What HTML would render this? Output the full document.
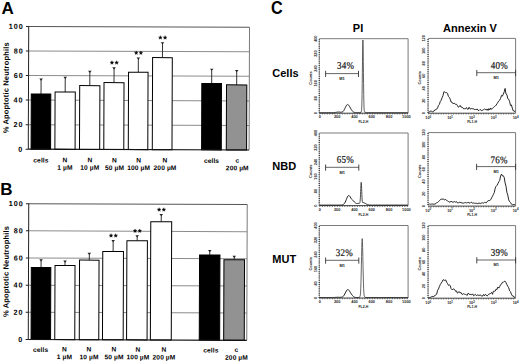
<!DOCTYPE html>
<html><head><meta charset="utf-8"><style>
html,body{margin:0;padding:0;background:#fff;width:520px;height:362px;overflow:hidden}
svg{display:block}
</style></head><body>
<svg width="520" height="362" viewBox="0 0 520 362">
<rect width="520" height="362" fill="#fff"/>
<text x="1.5" y="14.0" font-size="17" font-weight="bold" font-family='"Liberation Sans", sans-serif'>A</text>
<g transform="rotate(0.2 139 88.22)">
<line x1="28.5" y1="125.05" x2="249.3" y2="125.05" stroke="#8c8c8c" stroke-width="1"/>
<line x1="28.5" y1="100.50" x2="249.3" y2="100.50" stroke="#8c8c8c" stroke-width="1"/>
<line x1="28.5" y1="75.95" x2="249.3" y2="75.95" stroke="#8c8c8c" stroke-width="1"/>
<line x1="28.5" y1="51.40" x2="249.3" y2="51.40" stroke="#8c8c8c" stroke-width="1"/>
<line x1="28.5" y1="26.85" x2="249.3" y2="26.85" stroke="#555" stroke-width="1.1"/>
<line x1="249.3" y1="26.85" x2="249.3" y2="149.60" stroke="#7a7a7a" stroke-width="1"/>
<line x1="25.8" y1="149.60" x2="28.5" y2="149.60" stroke="#222" stroke-width="1"/>
<text x="23.6" y="152.05" font-size="7.2" font-weight="bold" letter-spacing="1.0" text-anchor="end" font-family='"Liberation Sans", sans-serif'>0</text>
<line x1="25.8" y1="125.05" x2="28.5" y2="125.05" stroke="#222" stroke-width="1"/>
<text x="23.6" y="127.50" font-size="7.2" font-weight="bold" letter-spacing="1.0" text-anchor="end" font-family='"Liberation Sans", sans-serif'>20</text>
<line x1="25.8" y1="100.50" x2="28.5" y2="100.50" stroke="#222" stroke-width="1"/>
<text x="23.6" y="102.95" font-size="7.2" font-weight="bold" letter-spacing="1.0" text-anchor="end" font-family='"Liberation Sans", sans-serif'>40</text>
<line x1="25.8" y1="75.95" x2="28.5" y2="75.95" stroke="#222" stroke-width="1"/>
<text x="23.6" y="78.40" font-size="7.2" font-weight="bold" letter-spacing="1.0" text-anchor="end" font-family='"Liberation Sans", sans-serif'>60</text>
<line x1="25.8" y1="51.40" x2="28.5" y2="51.40" stroke="#222" stroke-width="1"/>
<text x="23.6" y="53.85" font-size="7.2" font-weight="bold" letter-spacing="1.0" text-anchor="end" font-family='"Liberation Sans", sans-serif'>80</text>
<line x1="25.8" y1="26.85" x2="28.5" y2="26.85" stroke="#222" stroke-width="1"/>
<text x="23.6" y="29.30" font-size="7.2" font-weight="bold" letter-spacing="1.0" text-anchor="end" font-family='"Liberation Sans", sans-serif'>100</text>
<line x1="41.05" y1="79.63" x2="41.05" y2="94.36" stroke="#333" stroke-width="1"/>
<polygon points="39.25,78.93 42.85,78.93 41.05,81.13" fill="#222"/>
<rect x="31.30" y="94.36" width="19.50" height="55.24" fill="#000" stroke="#000" stroke-width="1"/>
<line x1="65.20" y1="77.67" x2="65.20" y2="92.28" stroke="#333" stroke-width="1"/>
<polygon points="63.40,76.97 67.00,76.97 65.20,79.17" fill="#222"/>
<rect x="55.10" y="92.28" width="20.20" height="57.32" fill="#fff" stroke="#000" stroke-width="1"/>
<line x1="89.80" y1="71.65" x2="89.80" y2="85.77" stroke="#333" stroke-width="1"/>
<polygon points="88.00,70.95 91.60,70.95 89.80,73.15" fill="#222"/>
<rect x="79.70" y="85.77" width="20.20" height="63.83" fill="#fff" stroke="#000" stroke-width="1"/>
<line x1="114.00" y1="68.09" x2="114.00" y2="82.70" stroke="#333" stroke-width="1"/>
<polygon points="112.20,67.39 115.80,67.39 114.00,69.59" fill="#222"/>
<rect x="104.00" y="82.70" width="20.00" height="66.90" fill="#fff" stroke="#000" stroke-width="1"/>
<line x1="138.25" y1="58.15" x2="138.25" y2="72.27" stroke="#333" stroke-width="1"/>
<polygon points="136.45,57.45 140.05,57.45 138.25,59.65" fill="#222"/>
<rect x="128.50" y="72.27" width="19.50" height="77.33" fill="#fff" stroke="#000" stroke-width="1"/>
<line x1="162.35" y1="42.81" x2="162.35" y2="57.54" stroke="#333" stroke-width="1"/>
<polygon points="160.55,42.11 164.15,42.11 162.35,44.31" fill="#222"/>
<rect x="152.50" y="57.54" width="19.70" height="92.06" fill="#fff" stroke="#000" stroke-width="1"/>
<line x1="211.65" y1="69.08" x2="211.65" y2="83.31" stroke="#333" stroke-width="1"/>
<polygon points="209.85,68.38 213.45,68.38 211.65,70.58" fill="#222"/>
<rect x="201.80" y="83.31" width="19.70" height="66.28" fill="#000" stroke="#000" stroke-width="1"/>
<line x1="236.65" y1="70.43" x2="236.65" y2="84.54" stroke="#333" stroke-width="1"/>
<polygon points="234.85,69.73 238.45,69.73 236.65,71.93" fill="#222"/>
<rect x="226.50" y="84.54" width="20.30" height="65.06" fill="#929292" stroke="#000" stroke-width="1"/>
<line x1="28.5" y1="26.35" x2="28.5" y2="149.60" stroke="#222" stroke-width="1"/>
<line x1="28.5" y1="149.60" x2="249.3" y2="149.60" stroke="#111" stroke-width="1.2"/>
<polygon points="111.85,60.84 112.35,62.11 113.70,62.19 112.66,63.06 113.00,64.37 111.85,63.64 110.70,64.37 111.04,63.06 110.00,62.19 111.35,62.11" fill="#000" stroke="#000" stroke-width="0.35" stroke-linejoin="round"/>
<polygon points="116.55,60.84 117.05,62.11 118.40,62.19 117.36,63.06 117.70,64.37 116.55,63.64 115.40,64.37 115.74,63.06 114.70,62.19 116.05,62.11" fill="#000" stroke="#000" stroke-width="0.35" stroke-linejoin="round"/>
<polygon points="136.10,50.90 136.60,52.16 137.95,52.25 136.91,53.11 137.25,54.43 136.10,53.70 134.95,54.43 135.29,53.11 134.25,52.25 135.60,52.16" fill="#000" stroke="#000" stroke-width="0.35" stroke-linejoin="round"/>
<polygon points="140.80,50.90 141.30,52.16 142.65,52.25 141.61,53.11 141.95,54.43 140.80,53.70 139.65,54.43 139.99,53.11 138.95,52.25 140.30,52.16" fill="#000" stroke="#000" stroke-width="0.35" stroke-linejoin="round"/>
<polygon points="160.20,35.56 160.70,36.82 162.05,36.90 161.01,37.77 161.35,39.09 160.20,38.36 159.05,39.09 159.39,37.77 158.35,36.90 159.70,36.82" fill="#000" stroke="#000" stroke-width="0.35" stroke-linejoin="round"/>
<polygon points="164.90,35.56 165.40,36.82 166.75,36.90 165.71,37.77 166.05,39.09 164.90,38.36 163.75,39.09 164.09,37.77 163.05,36.90 164.40,36.82" fill="#000" stroke="#000" stroke-width="0.35" stroke-linejoin="round"/>
<text transform="translate(8.6,88.22) rotate(-90)" font-size="7.5" font-weight="bold" letter-spacing="0.17" text-anchor="middle" font-family='"Liberation Sans", sans-serif'>% Apoptotic Neutrophils</text>
<text x="41.20" y="162.80" font-size="6.6" letter-spacing="0.12" font-weight="bold" text-anchor="middle" font-family='"Liberation Sans", sans-serif'>cells</text>
<text x="65.30" y="162.50" font-size="6.6" letter-spacing="0.12" font-weight="bold" text-anchor="middle" font-family='"Liberation Sans", sans-serif'>N</text>
<text x="65.30" y="170.00" font-size="6.6" letter-spacing="0.12" font-weight="bold" text-anchor="middle" font-family='"Liberation Sans", sans-serif'>1 µM</text>
<text x="90.10" y="162.50" font-size="6.6" letter-spacing="0.12" font-weight="bold" text-anchor="middle" font-family='"Liberation Sans", sans-serif'>N</text>
<text x="90.10" y="170.00" font-size="6.6" letter-spacing="0.12" font-weight="bold" text-anchor="middle" font-family='"Liberation Sans", sans-serif'>10 µM</text>
<text x="114.80" y="162.50" font-size="6.6" letter-spacing="0.12" font-weight="bold" text-anchor="middle" font-family='"Liberation Sans", sans-serif'>N</text>
<text x="114.80" y="170.00" font-size="6.6" letter-spacing="0.12" font-weight="bold" text-anchor="middle" font-family='"Liberation Sans", sans-serif'>50 µM</text>
<text x="139.00" y="162.50" font-size="6.6" letter-spacing="0.12" font-weight="bold" text-anchor="middle" font-family='"Liberation Sans", sans-serif'>N</text>
<text x="139.00" y="170.00" font-size="6.6" letter-spacing="0.12" font-weight="bold" text-anchor="middle" font-family='"Liberation Sans", sans-serif'>100 µM</text>
<text x="165.30" y="162.50" font-size="6.6" letter-spacing="0.12" font-weight="bold" text-anchor="middle" font-family='"Liberation Sans", sans-serif'>N</text>
<text x="165.30" y="170.00" font-size="6.6" letter-spacing="0.12" font-weight="bold" text-anchor="middle" font-family='"Liberation Sans", sans-serif'>200 µM</text>
<text x="211.80" y="162.80" font-size="6.6" letter-spacing="0.12" font-weight="bold" text-anchor="middle" font-family='"Liberation Sans", sans-serif'>cells</text>
<text x="237.60" y="162.50" font-size="6.6" letter-spacing="0.12" font-weight="bold" text-anchor="middle" font-family='"Liberation Sans", sans-serif'>c</text>
<text x="237.60" y="170.00" font-size="6.6" letter-spacing="0.12" font-weight="bold" text-anchor="middle" font-family='"Liberation Sans", sans-serif'>200 µM</text>
</g>
<text x="0.3" y="195.0" font-size="17" font-weight="bold" font-family='"Liberation Sans", sans-serif'>B</text>
<g transform="rotate(0.2 139 272.00)">
<line x1="28.5" y1="312.74" x2="247" y2="312.74" stroke="#8c8c8c" stroke-width="1"/>
<line x1="28.5" y1="285.58" x2="247" y2="285.58" stroke="#8c8c8c" stroke-width="1"/>
<line x1="28.5" y1="258.42" x2="247" y2="258.42" stroke="#8c8c8c" stroke-width="1"/>
<line x1="28.5" y1="231.26" x2="247" y2="231.26" stroke="#8c8c8c" stroke-width="1"/>
<line x1="28.5" y1="204.10" x2="247" y2="204.10" stroke="#555" stroke-width="1.1"/>
<line x1="247" y1="204.10" x2="247" y2="339.90" stroke="#7a7a7a" stroke-width="1"/>
<line x1="25.8" y1="339.90" x2="28.5" y2="339.90" stroke="#222" stroke-width="1"/>
<text x="23.6" y="342.35" font-size="7.2" font-weight="bold" letter-spacing="1.0" text-anchor="end" font-family='"Liberation Sans", sans-serif'>0</text>
<line x1="25.8" y1="312.74" x2="28.5" y2="312.74" stroke="#222" stroke-width="1"/>
<text x="23.6" y="315.19" font-size="7.2" font-weight="bold" letter-spacing="1.0" text-anchor="end" font-family='"Liberation Sans", sans-serif'>20</text>
<line x1="25.8" y1="285.58" x2="28.5" y2="285.58" stroke="#222" stroke-width="1"/>
<text x="23.6" y="288.03" font-size="7.2" font-weight="bold" letter-spacing="1.0" text-anchor="end" font-family='"Liberation Sans", sans-serif'>40</text>
<line x1="25.8" y1="258.42" x2="28.5" y2="258.42" stroke="#222" stroke-width="1"/>
<text x="23.6" y="260.87" font-size="7.2" font-weight="bold" letter-spacing="1.0" text-anchor="end" font-family='"Liberation Sans", sans-serif'>60</text>
<line x1="25.8" y1="231.26" x2="28.5" y2="231.26" stroke="#222" stroke-width="1"/>
<text x="23.6" y="233.71" font-size="7.2" font-weight="bold" letter-spacing="1.0" text-anchor="end" font-family='"Liberation Sans", sans-serif'>80</text>
<line x1="25.8" y1="204.10" x2="28.5" y2="204.10" stroke="#222" stroke-width="1"/>
<text x="23.6" y="206.55" font-size="7.2" font-weight="bold" letter-spacing="1.0" text-anchor="end" font-family='"Liberation Sans", sans-serif'>100</text>
<line x1="41.05" y1="260.32" x2="41.05" y2="267.93" stroke="#333" stroke-width="1"/>
<polygon points="39.25,259.62 42.85,259.62 41.05,261.82" fill="#222"/>
<rect x="31.30" y="267.93" width="19.50" height="71.97" fill="#000" stroke="#000" stroke-width="1"/>
<line x1="65.00" y1="261.41" x2="65.00" y2="265.75" stroke="#333" stroke-width="1"/>
<polygon points="63.20,260.71 66.80,260.71 65.00,262.91" fill="#222"/>
<rect x="55.00" y="265.75" width="20.00" height="74.15" fill="#fff" stroke="#000" stroke-width="1"/>
<line x1="89.25" y1="253.67" x2="89.25" y2="260.32" stroke="#333" stroke-width="1"/>
<polygon points="87.45,252.97 91.05,252.97 89.25,255.17" fill="#222"/>
<rect x="79.50" y="260.32" width="19.50" height="79.58" fill="#fff" stroke="#000" stroke-width="1"/>
<line x1="113.05" y1="240.77" x2="113.05" y2="251.63" stroke="#333" stroke-width="1"/>
<polygon points="111.25,240.07 114.85,240.07 113.05,242.27" fill="#222"/>
<rect x="102.70" y="251.63" width="20.70" height="88.27" fill="#fff" stroke="#000" stroke-width="1"/>
<line x1="137.05" y1="236.01" x2="137.05" y2="240.77" stroke="#333" stroke-width="1"/>
<polygon points="135.25,235.31 138.85,235.31 137.05,237.51" fill="#222"/>
<rect x="126.80" y="240.77" width="20.50" height="99.13" fill="#fff" stroke="#000" stroke-width="1"/>
<line x1="161.05" y1="214.69" x2="161.05" y2="221.75" stroke="#333" stroke-width="1"/>
<polygon points="159.25,213.99 162.85,213.99 161.05,216.19" fill="#222"/>
<rect x="150.60" y="221.75" width="20.90" height="118.15" fill="#fff" stroke="#000" stroke-width="1"/>
<line x1="209.70" y1="250.41" x2="209.70" y2="254.75" stroke="#333" stroke-width="1"/>
<polygon points="207.90,249.71 211.50,249.71 209.70,251.91" fill="#222"/>
<rect x="199.50" y="254.75" width="20.40" height="85.15" fill="#000" stroke="#000" stroke-width="1"/>
<line x1="234.20" y1="256.11" x2="234.20" y2="259.37" stroke="#333" stroke-width="1"/>
<polygon points="232.40,255.41 236.00,255.41 234.20,257.61" fill="#222"/>
<rect x="223.90" y="259.37" width="20.60" height="80.53" fill="#929292" stroke="#000" stroke-width="1"/>
<line x1="28.5" y1="203.60" x2="28.5" y2="339.90" stroke="#222" stroke-width="1"/>
<line x1="28.5" y1="339.90" x2="247" y2="339.90" stroke="#111" stroke-width="1.2"/>
<polygon points="110.90,233.72 111.40,234.98 112.75,235.06 111.71,235.93 112.05,237.24 110.90,236.52 109.75,237.24 110.09,235.93 109.05,235.06 110.40,234.98" fill="#000" stroke="#000" stroke-width="0.35" stroke-linejoin="round"/>
<polygon points="115.60,233.72 116.10,234.98 117.45,235.06 116.41,235.93 116.75,237.24 115.60,236.52 114.45,237.24 114.79,235.93 113.75,235.06 115.10,234.98" fill="#000" stroke="#000" stroke-width="0.35" stroke-linejoin="round"/>
<polygon points="134.90,228.96 135.40,230.23 136.75,230.31 135.71,231.18 136.05,232.49 134.90,231.76 133.75,232.49 134.09,231.18 133.05,230.31 134.40,230.23" fill="#000" stroke="#000" stroke-width="0.35" stroke-linejoin="round"/>
<polygon points="139.60,228.96 140.10,230.23 141.45,230.31 140.41,231.18 140.75,232.49 139.60,231.76 138.45,232.49 138.79,231.18 137.75,230.31 139.10,230.23" fill="#000" stroke="#000" stroke-width="0.35" stroke-linejoin="round"/>
<polygon points="158.90,207.64 159.40,208.90 160.75,208.99 159.71,209.86 160.05,211.17 158.90,210.44 157.75,211.17 158.09,209.86 157.05,208.99 158.40,208.90" fill="#000" stroke="#000" stroke-width="0.35" stroke-linejoin="round"/>
<polygon points="163.60,207.64 164.10,208.90 165.45,208.99 164.41,209.86 164.75,211.17 163.60,210.44 162.45,211.17 162.79,209.86 161.75,208.99 163.10,208.90" fill="#000" stroke="#000" stroke-width="0.35" stroke-linejoin="round"/>
<text transform="translate(8.6,272.00) rotate(-90)" font-size="7.5" font-weight="bold" letter-spacing="0.17" text-anchor="middle" font-family='"Liberation Sans", sans-serif'>% Apoptotic Neutrophils</text>
<text x="40.90" y="352.30" font-size="6.6" letter-spacing="0.12" font-weight="bold" text-anchor="middle" font-family='"Liberation Sans", sans-serif'>cells</text>
<text x="64.70" y="351.70" font-size="6.6" letter-spacing="0.12" font-weight="bold" text-anchor="middle" font-family='"Liberation Sans", sans-serif'>N</text>
<text x="64.70" y="359.40" font-size="6.6" letter-spacing="0.12" font-weight="bold" text-anchor="middle" font-family='"Liberation Sans", sans-serif'>1 µM</text>
<text x="89.30" y="351.70" font-size="6.6" letter-spacing="0.12" font-weight="bold" text-anchor="middle" font-family='"Liberation Sans", sans-serif'>N</text>
<text x="89.30" y="359.40" font-size="6.6" letter-spacing="0.12" font-weight="bold" text-anchor="middle" font-family='"Liberation Sans", sans-serif'>10 µM</text>
<text x="114.30" y="351.70" font-size="6.6" letter-spacing="0.12" font-weight="bold" text-anchor="middle" font-family='"Liberation Sans", sans-serif'>N</text>
<text x="114.30" y="359.40" font-size="6.6" letter-spacing="0.12" font-weight="bold" text-anchor="middle" font-family='"Liberation Sans", sans-serif'>50 µM</text>
<text x="138.30" y="351.70" font-size="6.6" letter-spacing="0.12" font-weight="bold" text-anchor="middle" font-family='"Liberation Sans", sans-serif'>N</text>
<text x="138.30" y="359.40" font-size="6.6" letter-spacing="0.12" font-weight="bold" text-anchor="middle" font-family='"Liberation Sans", sans-serif'>100 µM</text>
<text x="164.30" y="351.70" font-size="6.6" letter-spacing="0.12" font-weight="bold" text-anchor="middle" font-family='"Liberation Sans", sans-serif'>N</text>
<text x="164.30" y="359.40" font-size="6.6" letter-spacing="0.12" font-weight="bold" text-anchor="middle" font-family='"Liberation Sans", sans-serif'>200 µM</text>
<text x="211.10" y="352.30" font-size="6.6" letter-spacing="0.12" font-weight="bold" text-anchor="middle" font-family='"Liberation Sans", sans-serif'>cells</text>
<text x="236.80" y="351.70" font-size="6.6" letter-spacing="0.12" font-weight="bold" text-anchor="middle" font-family='"Liberation Sans", sans-serif'>c</text>
<text x="236.80" y="359.40" font-size="6.6" letter-spacing="0.12" font-weight="bold" text-anchor="middle" font-family='"Liberation Sans", sans-serif'>200 µM</text>
</g>
<text transform="translate(271.0,14.3) scale(0.9,1)" font-size="18" font-weight="bold" font-family='"Liberation Sans", sans-serif'>C</text>
<text x="358" y="31.8" font-size="11" font-weight="bold" text-anchor="middle" font-family='"Liberation Sans", sans-serif'>PI</text>
<text x="470" y="32.3" font-size="11" font-weight="bold" text-anchor="middle" font-family='"Liberation Sans", sans-serif'>Annexin V</text>
<text x="272.3" y="76.7" font-size="11" font-weight="bold" font-family='"Liberation Sans", sans-serif'>Cells</text>
<text x="272.3" y="169.6" font-size="11" font-weight="bold" font-family='"Liberation Sans", sans-serif'>NBD</text>
<text x="272.3" y="262.8" font-size="11" font-weight="bold" font-family='"Liberation Sans", sans-serif'>MUT</text>
<polyline points="319.40,38.70 408.10,38.70 408.10,113.20" fill="none" stroke="#7a7a7a" stroke-width="1"/>
<line x1="319.40" y1="38.70" x2="319.40" y2="113.20" stroke="#999" stroke-width="0.6"/>
<line x1="319.40" y1="113.20" x2="408.10" y2="113.20" stroke="#444" stroke-width="1"/>
<line x1="319.20" y1="39.20" x2="319.20" y2="113.20" stroke="#1a1a1a" stroke-width="1.1" stroke-dasharray="1 1.15"/>
<line x1="319.40" y1="113.90" x2="408.10" y2="113.90" stroke="#333" stroke-width="0.9" stroke-dasharray="0.9 1.6"/>
<text transform="translate(316.60,113.20) rotate(-90)" font-size="3.8" font-weight="bold" text-anchor="middle" fill="#222" font-family='"Liberation Sans", sans-serif'>0</text>
<text transform="translate(316.60,98.30) rotate(-90)" font-size="3.8" font-weight="bold" text-anchor="middle" fill="#222" font-family='"Liberation Sans", sans-serif'>80</text>
<text transform="translate(316.60,83.40) rotate(-90)" font-size="3.8" font-weight="bold" text-anchor="middle" fill="#222" font-family='"Liberation Sans", sans-serif'>160</text>
<text transform="translate(316.60,68.50) rotate(-90)" font-size="3.8" font-weight="bold" text-anchor="middle" fill="#222" font-family='"Liberation Sans", sans-serif'>240</text>
<text transform="translate(316.60,53.60) rotate(-90)" font-size="3.8" font-weight="bold" text-anchor="middle" fill="#222" font-family='"Liberation Sans", sans-serif'>320</text>
<text transform="translate(316.60,38.70) rotate(-90)" font-size="3.8" font-weight="bold" text-anchor="middle" fill="#222" font-family='"Liberation Sans", sans-serif'>400</text>
<text transform="translate(311.80,77.95) rotate(-90)" font-size="3.9" font-weight="bold" text-anchor="middle" fill="#222" font-family='"Liberation Sans", sans-serif'>Counts</text>
<text x="319.90" y="118.10" font-size="3.9" font-weight="bold" text-anchor="middle" fill="#222" font-family='"Liberation Sans", sans-serif'>0</text>
<text x="337.20" y="118.10" font-size="3.9" font-weight="bold" text-anchor="middle" fill="#222" font-family='"Liberation Sans", sans-serif'>200</text>
<text x="354.50" y="118.10" font-size="3.9" font-weight="bold" text-anchor="middle" fill="#222" font-family='"Liberation Sans", sans-serif'>400</text>
<text x="371.80" y="118.10" font-size="3.9" font-weight="bold" text-anchor="middle" fill="#222" font-family='"Liberation Sans", sans-serif'>600</text>
<text x="389.10" y="118.10" font-size="3.9" font-weight="bold" text-anchor="middle" fill="#222" font-family='"Liberation Sans", sans-serif'>800</text>
<text x="406.40" y="118.10" font-size="3.9" font-weight="bold" text-anchor="middle" fill="#222" font-family='"Liberation Sans", sans-serif'>1000</text>
<text x="363.40" y="123.10" font-size="3.5" font-weight="bold" text-anchor="middle" fill="#222" font-family='"Liberation Sans", sans-serif'>FL2-H</text>
<text transform="translate(345.60,68.80) rotate(0.25) scale(0.88,1)" font-size="10.2" letter-spacing="0.25" text-anchor="middle" fill="#111" stroke="#111" stroke-width="0.2" font-family='"Liberation Serif", serif'>34%</text>
<line x1="325.60" y1="73.60" x2="358.50" y2="73.60" stroke="#4a4a4a" stroke-width="0.85"/>
<line x1="325.60" y1="70.80" x2="325.60" y2="77.00" stroke="#333" stroke-width="0.9"/>
<line x1="358.50" y1="70.80" x2="358.50" y2="77.00" stroke="#333" stroke-width="0.9"/>
<text x="342.05" y="79.80" font-size="3.9" font-weight="bold" text-anchor="middle" fill="#111" font-family='"Liberation Sans", sans-serif'>M1</text>
<polyline points="360.80,112.70 361.58,110.66 361.78,107.02 361.93,101.92 362.07,94.64 362.22,83.71 362.35,72.78 362.48,61.85 362.61,50.93 362.74,43.64 362.90,40.00 363.06,43.64 363.19,50.93 363.32,61.85 363.45,72.78 363.58,83.71 363.73,94.64 363.87,101.92 364.02,107.02 364.22,110.66 365.30,112.70" fill="none" stroke="#3a3a3a" stroke-width="0.8" stroke-linejoin="round"/>
<polyline points="319.80,112.70 320.30,112.70 320.80,112.70 321.30,112.70 321.80,112.70 322.30,112.70 322.80,112.70 323.30,112.70 323.80,112.70 324.30,112.70 324.80,112.70 325.30,112.70 325.80,112.70 326.30,112.70 326.80,112.70 327.30,112.70 327.80,112.70 328.30,112.70 328.80,112.70 329.30,112.70 329.80,112.70 330.30,112.70 330.80,112.70 331.30,112.70 331.80,112.70 332.30,112.70 332.80,112.70 333.30,112.70 333.80,112.70 334.30,112.65 334.80,112.56 335.30,112.47 335.80,112.37 336.30,112.30 336.80,112.19 337.30,112.08 337.80,112.12 338.30,112.06 338.80,112.07 339.30,112.04 339.80,112.18 340.30,112.21 340.80,112.16 341.30,112.18 341.80,112.16 342.30,111.98 342.80,111.70 343.30,111.14 343.80,110.55 344.30,109.68 344.80,108.60 345.30,107.60 345.80,106.61 346.30,105.68 346.80,104.92 347.30,104.60 347.80,104.48 348.30,104.82 348.80,105.47 349.30,106.08 349.80,106.85 350.30,107.83 350.80,108.75 351.30,109.58 351.80,110.27 352.30,110.93 352.80,111.47 353.30,111.91 353.80,112.19 354.30,112.40 354.80,112.57 355.30,112.63 355.80,112.70 356.30,112.70 356.80,112.70 357.30,112.70 357.80,112.70 358.30,112.70 358.80,112.70 359.30,112.70 359.80,112.70 360.30,112.70 360.80,112.70" fill="none" stroke="#1a1a1a" stroke-width="1.0" stroke-linejoin="round"/>
<polyline points="365.30,112.70 365.80,112.70 366.30,112.70 366.80,112.70 367.30,112.70 367.80,112.70 368.30,112.70 368.80,112.70 369.30,112.70 369.80,112.70 370.30,112.70 370.80,112.70 371.30,112.70 371.80,112.70 372.30,112.70 372.80,112.70 373.30,112.70 373.80,112.70 374.30,112.70 374.80,112.70 375.30,112.70 375.80,112.70 376.30,112.70 376.80,112.70 377.30,112.70 377.80,112.70 378.30,112.70 378.80,112.70 379.30,112.70 379.80,112.70 380.30,112.70 380.80,112.70 381.30,112.70 381.80,112.70 382.30,112.70 382.80,112.70 383.30,112.70 383.80,112.70 384.30,112.70 384.80,112.70 385.30,112.70 385.80,112.70 386.30,112.70 386.80,112.70 387.30,112.70 387.80,112.70 388.30,112.70 388.80,112.70 389.30,112.70 389.80,112.70 390.30,112.70 390.80,112.70 391.30,112.70 391.80,112.70 392.30,112.70 392.80,112.70 393.30,112.70 393.80,112.70 394.30,112.70 394.80,112.70 395.30,112.70 395.80,112.70 396.30,112.70 396.80,112.70 397.30,112.70 397.80,112.70 398.30,112.70 398.80,112.70 399.30,112.70 399.80,112.70 400.30,112.70 400.80,112.70 401.30,112.70 401.80,112.70 402.30,112.70 402.80,112.70 403.30,112.70 403.80,112.70 404.30,112.70 404.80,112.70 405.30,112.70 405.80,112.70 406.30,112.70 406.80,112.70 407.30,112.70 407.80,112.70" fill="none" stroke="#1a1a1a" stroke-width="1.0" stroke-linejoin="round"/>
<polyline points="428.20,38.40 515.60,38.40 515.60,113.20" fill="none" stroke="#7a7a7a" stroke-width="1"/>
<line x1="428.20" y1="38.40" x2="428.20" y2="113.20" stroke="#999" stroke-width="0.6"/>
<line x1="428.20" y1="113.20" x2="515.60" y2="113.20" stroke="#444" stroke-width="1"/>
<line x1="428.00" y1="38.90" x2="428.00" y2="113.20" stroke="#1a1a1a" stroke-width="1.1" stroke-dasharray="1 1.15"/>
<line x1="428.20" y1="113.90" x2="515.60" y2="113.90" stroke="#333" stroke-width="0.9" stroke-dasharray="0.9 1.6"/>
<text transform="translate(425.40,113.20) rotate(-90)" font-size="3.8" font-weight="bold" text-anchor="middle" fill="#222" font-family='"Liberation Sans", sans-serif'>0</text>
<text transform="translate(425.40,100.73) rotate(-90)" font-size="3.8" font-weight="bold" text-anchor="middle" fill="#222" font-family='"Liberation Sans", sans-serif'>20</text>
<text transform="translate(425.40,88.27) rotate(-90)" font-size="3.8" font-weight="bold" text-anchor="middle" fill="#222" font-family='"Liberation Sans", sans-serif'>40</text>
<text transform="translate(425.40,75.80) rotate(-90)" font-size="3.8" font-weight="bold" text-anchor="middle" fill="#222" font-family='"Liberation Sans", sans-serif'>60</text>
<text transform="translate(425.40,63.33) rotate(-90)" font-size="3.8" font-weight="bold" text-anchor="middle" fill="#222" font-family='"Liberation Sans", sans-serif'>80</text>
<text transform="translate(425.40,50.87) rotate(-90)" font-size="3.8" font-weight="bold" text-anchor="middle" fill="#222" font-family='"Liberation Sans", sans-serif'>100</text>
<text transform="translate(425.40,38.40) rotate(-90)" font-size="3.8" font-weight="bold" text-anchor="middle" fill="#222" font-family='"Liberation Sans", sans-serif'>120</text>
<text transform="translate(420.60,77.80) rotate(-90)" font-size="3.9" font-weight="bold" text-anchor="middle" fill="#222" font-family='"Liberation Sans", sans-serif'>Counts</text>
<text x="428.20" y="118.80" font-size="3.8" font-weight="bold" text-anchor="middle" fill="#222" font-family='"Liberation Sans", sans-serif'>10<tspan dy="-1.3" font-size="2.9">0</tspan></text>
<text x="450.05" y="118.80" font-size="3.8" font-weight="bold" text-anchor="middle" fill="#222" font-family='"Liberation Sans", sans-serif'>10<tspan dy="-1.3" font-size="2.9">1</tspan></text>
<text x="471.90" y="118.80" font-size="3.8" font-weight="bold" text-anchor="middle" fill="#222" font-family='"Liberation Sans", sans-serif'>10<tspan dy="-1.3" font-size="2.9">2</tspan></text>
<text x="493.75" y="118.80" font-size="3.8" font-weight="bold" text-anchor="middle" fill="#222" font-family='"Liberation Sans", sans-serif'>10<tspan dy="-1.3" font-size="2.9">3</tspan></text>
<text x="515.60" y="118.80" font-size="3.8" font-weight="bold" text-anchor="middle" fill="#222" font-family='"Liberation Sans", sans-serif'>10<tspan dy="-1.3" font-size="2.9">4</tspan></text>
<text x="472.20" y="123.10" font-size="3.5" font-weight="bold" text-anchor="middle" fill="#222" font-family='"Liberation Sans", sans-serif'>FL1-H</text>
<text transform="translate(499.30,68.80) rotate(0.25) scale(0.88,1)" font-size="10.2" letter-spacing="0.25" text-anchor="middle" fill="#111" stroke="#111" stroke-width="0.2" font-family='"Liberation Serif", serif'>40%</text>
<line x1="476.80" y1="72.70" x2="515.60" y2="72.70" stroke="#4a4a4a" stroke-width="0.85"/>
<line x1="476.80" y1="69.90" x2="476.80" y2="76.10" stroke="#333" stroke-width="0.9"/>
<line x1="515.60" y1="69.90" x2="515.60" y2="76.10" stroke="#333" stroke-width="0.9"/>
<text x="496.20" y="78.90" font-size="3.9" font-weight="bold" text-anchor="middle" fill="#111" font-family='"Liberation Sans", sans-serif'>M1</text>
<polyline points="428.60,111.91 429.50,112.10 430.40,110.92 431.30,111.11 432.20,111.95 433.10,111.47 434.00,111.11 434.90,109.84 435.80,109.73 436.70,109.20 437.60,107.88 438.50,105.39 439.40,104.37 440.30,101.41 441.20,100.11 442.10,97.72 443.00,95.53 443.90,91.77 444.80,91.95 445.70,92.74 446.60,92.62 447.50,93.28 448.40,96.40 449.30,97.36 450.20,99.19 451.10,102.03 452.00,102.13 452.90,103.64 453.80,103.43 454.70,103.29 455.60,104.49 456.50,104.25 457.40,105.54 458.30,107.19 459.20,106.66 460.10,105.43 461.00,107.17 461.90,107.09 462.80,107.71 463.70,108.94 464.60,108.76 465.50,108.76 466.40,107.55 467.30,109.17 468.20,109.21 469.10,107.24 470.00,108.91 470.90,108.95 471.80,108.42 472.70,108.72 473.60,108.72 474.50,109.92 475.40,108.94 476.30,109.95 477.20,108.92 478.10,110.38 479.00,110.54 479.90,109.61 480.80,109.86 481.70,110.67 482.60,110.21 483.50,109.67 484.40,109.06 485.30,109.30 486.20,110.16 487.10,108.93 488.00,110.46 488.90,108.59 489.80,109.89 490.70,107.96 491.60,109.33 492.50,108.45 493.40,107.44 494.30,106.69 495.20,106.14 496.10,105.14 497.00,103.80 497.90,102.29 498.80,100.91 499.70,100.17 500.60,98.33 501.50,95.42 502.40,96.10 503.30,94.17 504.20,91.87 505.10,88.46 506.00,94.13 506.90,94.63 507.80,98.68 508.70,99.27 509.60,101.57 510.50,105.54 511.40,104.92 512.30,108.08 513.20,110.80 514.10,110.69 515.00,112.01" fill="none" stroke="#1a1a1a" stroke-width="0.95" stroke-linejoin="round"/>
<polyline points="319.40,133.00 408.10,133.00 408.10,205.60" fill="none" stroke="#7a7a7a" stroke-width="1"/>
<line x1="319.40" y1="133.00" x2="319.40" y2="205.60" stroke="#999" stroke-width="0.6"/>
<line x1="319.40" y1="205.60" x2="408.10" y2="205.60" stroke="#444" stroke-width="1"/>
<line x1="319.20" y1="133.50" x2="319.20" y2="205.60" stroke="#1a1a1a" stroke-width="1.1" stroke-dasharray="1 1.15"/>
<line x1="319.40" y1="206.30" x2="408.10" y2="206.30" stroke="#333" stroke-width="0.9" stroke-dasharray="0.9 1.6"/>
<text transform="translate(316.60,205.60) rotate(-90)" font-size="3.8" font-weight="bold" text-anchor="middle" fill="#222" font-family='"Liberation Sans", sans-serif'>0</text>
<text transform="translate(316.60,191.08) rotate(-90)" font-size="3.8" font-weight="bold" text-anchor="middle" fill="#222" font-family='"Liberation Sans", sans-serif'>80</text>
<text transform="translate(316.60,176.56) rotate(-90)" font-size="3.8" font-weight="bold" text-anchor="middle" fill="#222" font-family='"Liberation Sans", sans-serif'>160</text>
<text transform="translate(316.60,162.04) rotate(-90)" font-size="3.8" font-weight="bold" text-anchor="middle" fill="#222" font-family='"Liberation Sans", sans-serif'>240</text>
<text transform="translate(316.60,147.52) rotate(-90)" font-size="3.8" font-weight="bold" text-anchor="middle" fill="#222" font-family='"Liberation Sans", sans-serif'>320</text>
<text transform="translate(316.60,133.00) rotate(-90)" font-size="3.8" font-weight="bold" text-anchor="middle" fill="#222" font-family='"Liberation Sans", sans-serif'>400</text>
<text transform="translate(311.80,171.30) rotate(-90)" font-size="3.9" font-weight="bold" text-anchor="middle" fill="#222" font-family='"Liberation Sans", sans-serif'>Counts</text>
<text x="319.90" y="210.50" font-size="3.9" font-weight="bold" text-anchor="middle" fill="#222" font-family='"Liberation Sans", sans-serif'>0</text>
<text x="337.20" y="210.50" font-size="3.9" font-weight="bold" text-anchor="middle" fill="#222" font-family='"Liberation Sans", sans-serif'>200</text>
<text x="354.50" y="210.50" font-size="3.9" font-weight="bold" text-anchor="middle" fill="#222" font-family='"Liberation Sans", sans-serif'>400</text>
<text x="371.80" y="210.50" font-size="3.9" font-weight="bold" text-anchor="middle" fill="#222" font-family='"Liberation Sans", sans-serif'>600</text>
<text x="389.10" y="210.50" font-size="3.9" font-weight="bold" text-anchor="middle" fill="#222" font-family='"Liberation Sans", sans-serif'>800</text>
<text x="406.40" y="210.50" font-size="3.9" font-weight="bold" text-anchor="middle" fill="#222" font-family='"Liberation Sans", sans-serif'>1000</text>
<text x="363.40" y="215.50" font-size="3.5" font-weight="bold" text-anchor="middle" fill="#222" font-family='"Liberation Sans", sans-serif'>FL2-H</text>
<text transform="translate(345.40,162.80) rotate(0.25) scale(0.88,1)" font-size="10.2" letter-spacing="0.25" text-anchor="middle" fill="#111" stroke="#111" stroke-width="0.2" font-family='"Liberation Serif", serif'>65%</text>
<line x1="325.60" y1="167.30" x2="358.80" y2="167.30" stroke="#4a4a4a" stroke-width="0.85"/>
<line x1="325.60" y1="164.50" x2="325.60" y2="170.70" stroke="#333" stroke-width="0.9"/>
<line x1="358.80" y1="164.50" x2="358.80" y2="170.70" stroke="#333" stroke-width="0.9"/>
<text x="342.20" y="173.50" font-size="3.9" font-weight="bold" text-anchor="middle" fill="#111" font-family='"Liberation Sans", sans-serif'>M1</text>
<polyline points="359.30,203.44 359.88,202.46 360.08,201.42 360.23,199.97 360.37,197.89 360.52,194.77 360.65,191.65 360.78,188.54 360.91,185.42 361.04,183.34 361.20,182.30 361.36,183.34 361.49,185.42 361.62,188.54 361.75,191.65 361.88,194.77 362.03,197.89 362.17,199.97 362.32,201.42 362.52,202.46 363.30,202.47" fill="none" stroke="#222" stroke-width="0.8" stroke-linejoin="round"/>
<polyline points="319.80,205.08 320.30,205.10 320.80,205.09 321.30,205.10 321.80,205.10 322.30,205.06 322.80,205.06 323.30,205.10 323.80,205.08 324.30,205.08 324.80,205.10 325.30,205.10 325.80,205.10 326.30,205.10 326.80,205.10 327.30,205.07 327.80,205.10 328.30,205.10 328.80,205.10 329.30,205.10 329.80,205.10 330.30,205.06 330.80,205.10 331.30,205.10 331.80,205.08 332.30,205.06 332.80,205.10 333.30,205.10 333.80,205.10 334.30,205.10 334.80,205.10 335.30,205.10 335.80,205.09 336.30,205.10 336.80,205.09 337.30,205.10 337.80,205.10 338.30,205.06 338.80,205.07 339.30,205.07 339.80,205.10 340.30,205.08 340.80,205.09 341.30,205.03 341.80,204.99 342.30,204.89 342.80,204.73 343.30,204.50 343.80,204.12 344.30,203.62 344.80,202.85 345.30,201.98 345.80,200.85 346.30,199.65 346.80,198.32 347.30,197.04 347.80,196.29 348.30,195.74 348.80,195.57 349.30,195.73 349.80,196.33 350.30,196.98 350.80,197.99 351.30,198.74 351.80,199.36 352.30,199.84 352.80,200.47 353.30,200.92 353.80,201.17 354.30,201.85 354.80,202.30 355.30,202.73 355.80,203.13 356.30,203.43 356.80,203.55 357.30,203.43 357.80,203.50 358.30,203.38 358.80,203.49 359.30,203.44" fill="none" stroke="#1a1a1a" stroke-width="1.0" stroke-linejoin="round"/>
<polyline points="363.30,202.47 363.80,202.68 364.30,202.95 364.80,203.24 365.30,203.45 365.80,203.72 366.30,204.11 366.80,204.28 367.30,204.56 367.80,204.72 368.30,204.80 368.80,204.90 369.30,204.98 369.80,205.04 370.30,205.06 370.80,205.08 371.30,205.10 371.80,205.10 372.30,205.10 372.80,205.09 373.30,205.10 373.80,205.08 374.30,205.08 374.80,205.10 375.30,205.10 375.80,205.10 376.30,205.06 376.80,205.09 377.30,205.10 377.80,205.06 378.30,205.10 378.80,205.10 379.30,205.06 379.80,205.10 380.30,205.10 380.80,205.10 381.30,205.09 381.80,205.10 382.30,205.10 382.80,205.06 383.30,205.06 383.80,205.10 384.30,205.10 384.80,205.08 385.30,205.10 385.80,205.10 386.30,205.08 386.80,205.09 387.30,205.08 387.80,205.09 388.30,205.10 388.80,205.08 389.30,205.09 389.80,205.10 390.30,205.06 390.80,205.10 391.30,205.10 391.80,205.08 392.30,205.07 392.80,205.10 393.30,205.08 393.80,205.07 394.30,205.09 394.80,205.10 395.30,205.06 395.80,205.08 396.30,205.08 396.80,205.10 397.30,205.09 397.80,205.10 398.30,205.07 398.80,205.08 399.30,205.10 399.80,205.10 400.30,205.10 400.80,205.07 401.30,205.07 401.80,205.10 402.30,205.07 402.80,205.10 403.30,205.10 403.80,205.07 404.30,205.08 404.80,205.10 405.30,205.10 405.80,205.10 406.30,205.09 406.80,205.07 407.30,205.08 407.80,205.10" fill="none" stroke="#1a1a1a" stroke-width="1.0" stroke-linejoin="round"/>
<polyline points="428.20,132.60 515.60,132.60 515.60,206.10" fill="none" stroke="#7a7a7a" stroke-width="1"/>
<line x1="428.20" y1="132.60" x2="428.20" y2="206.10" stroke="#999" stroke-width="0.6"/>
<line x1="428.20" y1="206.10" x2="515.60" y2="206.10" stroke="#444" stroke-width="1"/>
<line x1="428.00" y1="133.10" x2="428.00" y2="206.10" stroke="#1a1a1a" stroke-width="1.1" stroke-dasharray="1 1.15"/>
<line x1="428.20" y1="206.80" x2="515.60" y2="206.80" stroke="#333" stroke-width="0.9" stroke-dasharray="0.9 1.6"/>
<text transform="translate(425.40,206.10) rotate(-90)" font-size="3.8" font-weight="bold" text-anchor="middle" fill="#222" font-family='"Liberation Sans", sans-serif'>0</text>
<text transform="translate(425.40,193.85) rotate(-90)" font-size="3.8" font-weight="bold" text-anchor="middle" fill="#222" font-family='"Liberation Sans", sans-serif'>20</text>
<text transform="translate(425.40,181.60) rotate(-90)" font-size="3.8" font-weight="bold" text-anchor="middle" fill="#222" font-family='"Liberation Sans", sans-serif'>40</text>
<text transform="translate(425.40,169.35) rotate(-90)" font-size="3.8" font-weight="bold" text-anchor="middle" fill="#222" font-family='"Liberation Sans", sans-serif'>60</text>
<text transform="translate(425.40,157.10) rotate(-90)" font-size="3.8" font-weight="bold" text-anchor="middle" fill="#222" font-family='"Liberation Sans", sans-serif'>80</text>
<text transform="translate(425.40,144.85) rotate(-90)" font-size="3.8" font-weight="bold" text-anchor="middle" fill="#222" font-family='"Liberation Sans", sans-serif'>100</text>
<text transform="translate(425.40,132.60) rotate(-90)" font-size="3.8" font-weight="bold" text-anchor="middle" fill="#222" font-family='"Liberation Sans", sans-serif'>120</text>
<text transform="translate(420.60,171.35) rotate(-90)" font-size="3.9" font-weight="bold" text-anchor="middle" fill="#222" font-family='"Liberation Sans", sans-serif'>Counts</text>
<text x="428.20" y="211.70" font-size="3.8" font-weight="bold" text-anchor="middle" fill="#222" font-family='"Liberation Sans", sans-serif'>10<tspan dy="-1.3" font-size="2.9">0</tspan></text>
<text x="450.05" y="211.70" font-size="3.8" font-weight="bold" text-anchor="middle" fill="#222" font-family='"Liberation Sans", sans-serif'>10<tspan dy="-1.3" font-size="2.9">1</tspan></text>
<text x="471.90" y="211.70" font-size="3.8" font-weight="bold" text-anchor="middle" fill="#222" font-family='"Liberation Sans", sans-serif'>10<tspan dy="-1.3" font-size="2.9">2</tspan></text>
<text x="493.75" y="211.70" font-size="3.8" font-weight="bold" text-anchor="middle" fill="#222" font-family='"Liberation Sans", sans-serif'>10<tspan dy="-1.3" font-size="2.9">3</tspan></text>
<text x="515.60" y="211.70" font-size="3.8" font-weight="bold" text-anchor="middle" fill="#222" font-family='"Liberation Sans", sans-serif'>10<tspan dy="-1.3" font-size="2.9">4</tspan></text>
<text x="472.20" y="216.00" font-size="3.5" font-weight="bold" text-anchor="middle" fill="#222" font-family='"Liberation Sans", sans-serif'>FL1-H</text>
<text transform="translate(499.10,163.30) rotate(0.25) scale(0.88,1)" font-size="10.2" letter-spacing="0.25" text-anchor="middle" fill="#111" stroke="#111" stroke-width="0.2" font-family='"Liberation Serif", serif'>76%</text>
<line x1="476.60" y1="166.60" x2="515.60" y2="166.60" stroke="#4a4a4a" stroke-width="0.85"/>
<line x1="476.60" y1="163.80" x2="476.60" y2="170.00" stroke="#333" stroke-width="0.9"/>
<line x1="515.60" y1="163.80" x2="515.60" y2="170.00" stroke="#333" stroke-width="0.9"/>
<text x="496.10" y="172.80" font-size="3.9" font-weight="bold" text-anchor="middle" fill="#111" font-family='"Liberation Sans", sans-serif'>M1</text>
<polyline points="428.60,204.15 429.50,204.03 430.40,204.30 431.30,204.08 432.20,204.00 433.10,204.12 434.00,204.35 434.90,203.93 435.80,203.66 436.70,202.63 437.60,202.48 438.50,201.65 439.40,200.69 440.30,199.69 441.20,199.06 442.10,199.35 443.00,198.86 443.90,199.36 444.80,199.96 445.70,199.46 446.60,200.17 447.50,201.10 448.40,201.50 449.30,202.00 450.20,202.22 451.10,201.02 452.00,201.94 452.90,202.16 453.80,202.00 454.70,201.59 455.60,202.13 456.50,201.59 457.40,202.90 458.30,202.84 459.20,202.41 460.10,202.11 461.00,203.06 461.90,202.63 462.80,203.13 463.70,203.13 464.60,202.71 465.50,202.62 466.40,202.92 467.30,202.72 468.20,202.38 469.10,202.62 470.00,203.34 470.90,202.39 471.80,202.45 472.70,203.26 473.60,202.89 474.50,203.27 475.40,203.25 476.30,203.15 477.20,203.99 478.10,203.07 479.00,203.37 479.90,203.14 480.80,203.54 481.70,202.94 482.60,202.85 483.50,203.17 484.40,202.39 485.30,202.54 486.20,202.91 487.10,201.59 488.00,200.97 488.90,200.46 489.80,200.53 490.70,199.72 491.60,197.91 492.50,196.19 493.40,194.48 494.30,192.52 495.20,188.16 496.10,186.30 497.00,185.32 497.90,183.62 498.80,181.77 499.70,180.42 500.60,176.06 501.50,174.08 502.40,175.88 503.30,175.73 504.20,177.40 505.10,182.86 506.00,186.26 506.90,192.40 507.80,195.20 508.70,199.82 509.60,201.73 510.50,202.51 511.40,203.97 512.30,204.90 513.20,204.57 514.10,204.55 515.00,204.87" fill="none" stroke="#1a1a1a" stroke-width="0.95" stroke-linejoin="round"/>
<polyline points="319.40,225.50 408.10,225.50 408.10,298.00" fill="none" stroke="#7a7a7a" stroke-width="1"/>
<line x1="319.40" y1="225.50" x2="319.40" y2="298.00" stroke="#999" stroke-width="0.6"/>
<line x1="319.40" y1="298.00" x2="408.10" y2="298.00" stroke="#444" stroke-width="1"/>
<line x1="319.20" y1="226.00" x2="319.20" y2="298.00" stroke="#1a1a1a" stroke-width="1.1" stroke-dasharray="1 1.15"/>
<line x1="319.40" y1="298.70" x2="408.10" y2="298.70" stroke="#333" stroke-width="0.9" stroke-dasharray="0.9 1.6"/>
<text transform="translate(316.60,298.00) rotate(-90)" font-size="3.8" font-weight="bold" text-anchor="middle" fill="#222" font-family='"Liberation Sans", sans-serif'>0</text>
<text transform="translate(316.60,283.50) rotate(-90)" font-size="3.8" font-weight="bold" text-anchor="middle" fill="#222" font-family='"Liberation Sans", sans-serif'>80</text>
<text transform="translate(316.60,269.00) rotate(-90)" font-size="3.8" font-weight="bold" text-anchor="middle" fill="#222" font-family='"Liberation Sans", sans-serif'>160</text>
<text transform="translate(316.60,254.50) rotate(-90)" font-size="3.8" font-weight="bold" text-anchor="middle" fill="#222" font-family='"Liberation Sans", sans-serif'>240</text>
<text transform="translate(316.60,240.00) rotate(-90)" font-size="3.8" font-weight="bold" text-anchor="middle" fill="#222" font-family='"Liberation Sans", sans-serif'>320</text>
<text transform="translate(316.60,225.50) rotate(-90)" font-size="3.8" font-weight="bold" text-anchor="middle" fill="#222" font-family='"Liberation Sans", sans-serif'>400</text>
<text transform="translate(311.80,263.75) rotate(-90)" font-size="3.9" font-weight="bold" text-anchor="middle" fill="#222" font-family='"Liberation Sans", sans-serif'>Counts</text>
<text x="319.90" y="302.90" font-size="3.9" font-weight="bold" text-anchor="middle" fill="#222" font-family='"Liberation Sans", sans-serif'>0</text>
<text x="337.20" y="302.90" font-size="3.9" font-weight="bold" text-anchor="middle" fill="#222" font-family='"Liberation Sans", sans-serif'>200</text>
<text x="354.50" y="302.90" font-size="3.9" font-weight="bold" text-anchor="middle" fill="#222" font-family='"Liberation Sans", sans-serif'>400</text>
<text x="371.80" y="302.90" font-size="3.9" font-weight="bold" text-anchor="middle" fill="#222" font-family='"Liberation Sans", sans-serif'>600</text>
<text x="389.10" y="302.90" font-size="3.9" font-weight="bold" text-anchor="middle" fill="#222" font-family='"Liberation Sans", sans-serif'>800</text>
<text x="406.40" y="302.90" font-size="3.9" font-weight="bold" text-anchor="middle" fill="#222" font-family='"Liberation Sans", sans-serif'>1000</text>
<text x="363.40" y="307.90" font-size="3.5" font-weight="bold" text-anchor="middle" fill="#222" font-family='"Liberation Sans", sans-serif'>FL2-H</text>
<text transform="translate(344.40,256.10) rotate(0.25) scale(0.88,1)" font-size="10.2" letter-spacing="0.25" text-anchor="middle" fill="#111" stroke="#111" stroke-width="0.2" font-family='"Liberation Serif", serif'>32%</text>
<line x1="325.60" y1="260.30" x2="358.80" y2="260.30" stroke="#4a4a4a" stroke-width="0.85"/>
<line x1="325.60" y1="257.50" x2="325.60" y2="263.70" stroke="#333" stroke-width="0.9"/>
<line x1="358.80" y1="257.50" x2="358.80" y2="263.70" stroke="#333" stroke-width="0.9"/>
<text x="342.20" y="266.50" font-size="3.9" font-weight="bold" text-anchor="middle" fill="#111" font-family='"Liberation Sans", sans-serif'>M1</text>
<polyline points="359.30,297.50 360.21,295.88 360.51,292.93 360.74,288.79 360.95,282.89 361.18,274.03 361.38,265.17 361.57,256.31 361.77,247.46 361.96,241.55 362.20,238.60 362.44,241.55 362.63,247.46 362.83,256.31 363.02,265.17 363.22,274.03 363.45,282.89 363.66,288.79 363.89,292.93 364.19,295.88 365.30,297.50" fill="none" stroke="#404040" stroke-width="0.8" stroke-linejoin="round"/>
<polyline points="319.80,297.50 320.30,297.50 320.80,297.50 321.30,297.50 321.80,297.50 322.30,297.50 322.80,297.50 323.30,297.50 323.80,297.50 324.30,297.50 324.80,297.50 325.30,297.50 325.80,297.50 326.30,297.50 326.80,297.50 327.30,297.50 327.80,297.50 328.30,297.50 328.80,297.50 329.30,297.50 329.80,297.50 330.30,297.50 330.80,297.50 331.30,297.50 331.80,297.50 332.30,297.50 332.80,297.50 333.30,297.50 333.80,297.47 334.30,297.44 334.80,297.47 335.30,297.42 335.80,297.32 336.30,297.36 336.80,297.28 337.30,297.28 337.80,297.22 338.30,297.30 338.80,297.28 339.30,297.32 339.80,297.33 340.30,297.29 340.80,297.29 341.30,297.23 341.80,297.14 342.30,296.95 342.80,296.69 343.30,296.30 343.80,295.61 344.30,294.96 344.80,293.97 345.30,292.94 345.80,292.03 346.30,290.99 346.80,290.19 347.30,289.76 347.80,289.70 348.30,289.71 348.80,290.32 349.30,290.66 349.80,291.55 350.30,292.38 350.80,293.02 351.30,294.02 351.80,294.68 352.30,295.39 352.80,295.87 353.30,296.35 353.80,296.74 354.30,297.10 354.80,297.22 355.30,297.42 355.80,297.50 356.30,297.50 356.80,297.50 357.30,297.50 357.80,297.50 358.30,297.50 358.80,297.50 359.30,297.50" fill="none" stroke="#1a1a1a" stroke-width="1.0" stroke-linejoin="round"/>
<polyline points="365.30,297.50 365.80,297.50 366.30,297.50 366.80,297.50 367.30,297.50 367.80,297.50 368.30,297.50 368.80,297.50 369.30,297.50 369.80,297.50 370.30,297.50 370.80,297.50 371.30,297.50 371.80,297.50 372.30,297.50 372.80,297.50 373.30,297.50 373.80,297.50 374.30,297.50 374.80,297.50 375.30,297.50 375.80,297.50 376.30,297.50 376.80,297.50 377.30,297.50 377.80,297.50 378.30,297.50 378.80,297.50 379.30,297.50 379.80,297.50 380.30,297.50 380.80,297.50 381.30,297.50 381.80,297.50 382.30,297.50 382.80,297.50 383.30,297.50 383.80,297.50 384.30,297.50 384.80,297.50 385.30,297.50 385.80,297.50 386.30,297.50 386.80,297.50 387.30,297.50 387.80,297.50 388.30,297.50 388.80,297.50 389.30,297.50 389.80,297.50 390.30,297.50 390.80,297.50 391.30,297.50 391.80,297.50 392.30,297.50 392.80,297.50 393.30,297.50 393.80,297.50 394.30,297.50 394.80,297.50 395.30,297.50 395.80,297.50 396.30,297.50 396.80,297.50 397.30,297.50 397.80,297.50 398.30,297.50 398.80,297.50 399.30,297.50 399.80,297.50 400.30,297.50 400.80,297.50 401.30,297.50 401.80,297.50 402.30,297.50 402.80,297.50 403.30,297.50 403.80,297.50 404.30,297.50 404.80,297.50 405.30,297.50 405.80,297.50 406.30,297.50 406.80,297.50 407.30,297.50 407.80,297.50" fill="none" stroke="#1a1a1a" stroke-width="1.0" stroke-linejoin="round"/>
<polyline points="428.20,225.60 515.60,225.60 515.60,298.20" fill="none" stroke="#7a7a7a" stroke-width="1"/>
<line x1="428.20" y1="225.60" x2="428.20" y2="298.20" stroke="#999" stroke-width="0.6"/>
<line x1="428.20" y1="298.20" x2="515.60" y2="298.20" stroke="#444" stroke-width="1"/>
<line x1="428.00" y1="226.10" x2="428.00" y2="298.20" stroke="#1a1a1a" stroke-width="1.1" stroke-dasharray="1 1.15"/>
<line x1="428.20" y1="298.90" x2="515.60" y2="298.90" stroke="#333" stroke-width="0.9" stroke-dasharray="0.9 1.6"/>
<text transform="translate(425.40,298.20) rotate(-90)" font-size="3.8" font-weight="bold" text-anchor="middle" fill="#222" font-family='"Liberation Sans", sans-serif'>0</text>
<text transform="translate(425.40,286.10) rotate(-90)" font-size="3.8" font-weight="bold" text-anchor="middle" fill="#222" font-family='"Liberation Sans", sans-serif'>20</text>
<text transform="translate(425.40,274.00) rotate(-90)" font-size="3.8" font-weight="bold" text-anchor="middle" fill="#222" font-family='"Liberation Sans", sans-serif'>40</text>
<text transform="translate(425.40,261.90) rotate(-90)" font-size="3.8" font-weight="bold" text-anchor="middle" fill="#222" font-family='"Liberation Sans", sans-serif'>60</text>
<text transform="translate(425.40,249.80) rotate(-90)" font-size="3.8" font-weight="bold" text-anchor="middle" fill="#222" font-family='"Liberation Sans", sans-serif'>80</text>
<text transform="translate(425.40,237.70) rotate(-90)" font-size="3.8" font-weight="bold" text-anchor="middle" fill="#222" font-family='"Liberation Sans", sans-serif'>100</text>
<text transform="translate(425.40,225.60) rotate(-90)" font-size="3.8" font-weight="bold" text-anchor="middle" fill="#222" font-family='"Liberation Sans", sans-serif'>120</text>
<text transform="translate(420.60,263.90) rotate(-90)" font-size="3.9" font-weight="bold" text-anchor="middle" fill="#222" font-family='"Liberation Sans", sans-serif'>Counts</text>
<text x="428.20" y="303.80" font-size="3.8" font-weight="bold" text-anchor="middle" fill="#222" font-family='"Liberation Sans", sans-serif'>10<tspan dy="-1.3" font-size="2.9">0</tspan></text>
<text x="450.05" y="303.80" font-size="3.8" font-weight="bold" text-anchor="middle" fill="#222" font-family='"Liberation Sans", sans-serif'>10<tspan dy="-1.3" font-size="2.9">1</tspan></text>
<text x="471.90" y="303.80" font-size="3.8" font-weight="bold" text-anchor="middle" fill="#222" font-family='"Liberation Sans", sans-serif'>10<tspan dy="-1.3" font-size="2.9">2</tspan></text>
<text x="493.75" y="303.80" font-size="3.8" font-weight="bold" text-anchor="middle" fill="#222" font-family='"Liberation Sans", sans-serif'>10<tspan dy="-1.3" font-size="2.9">3</tspan></text>
<text x="515.60" y="303.80" font-size="3.8" font-weight="bold" text-anchor="middle" fill="#222" font-family='"Liberation Sans", sans-serif'>10<tspan dy="-1.3" font-size="2.9">4</tspan></text>
<text x="472.20" y="308.10" font-size="3.5" font-weight="bold" text-anchor="middle" fill="#222" font-family='"Liberation Sans", sans-serif'>FL1-H</text>
<text transform="translate(499.30,255.80) rotate(0.25) scale(0.88,1)" font-size="10.2" letter-spacing="0.25" text-anchor="middle" fill="#111" stroke="#111" stroke-width="0.2" font-family='"Liberation Serif", serif'>39%</text>
<line x1="476.80" y1="260.00" x2="515.60" y2="260.00" stroke="#4a4a4a" stroke-width="0.85"/>
<line x1="476.80" y1="257.20" x2="476.80" y2="263.40" stroke="#333" stroke-width="0.9"/>
<line x1="515.60" y1="257.20" x2="515.60" y2="263.40" stroke="#333" stroke-width="0.9"/>
<text x="496.20" y="266.20" font-size="3.9" font-weight="bold" text-anchor="middle" fill="#111" font-family='"Liberation Sans", sans-serif'>M1</text>
<polyline points="428.60,297.70 429.50,297.70 430.40,297.34 431.30,296.86 432.20,296.36 433.10,296.87 434.00,295.96 434.90,295.88 435.80,294.59 436.70,294.17 437.60,290.29 438.50,288.89 439.40,286.59 440.30,284.54 441.20,283.09 442.10,281.89 443.00,279.83 443.90,279.83 444.80,280.62 445.70,279.86 446.60,282.12 447.50,283.47 448.40,285.39 449.30,284.90 450.20,285.46 451.10,288.65 452.00,289.78 452.90,289.32 453.80,288.83 454.70,289.63 455.60,291.34 456.50,290.97 457.40,293.11 458.30,292.39 459.20,291.56 460.10,292.97 461.00,292.47 461.90,294.23 462.80,294.44 463.70,293.65 464.60,294.18 465.50,294.44 466.40,294.80 467.30,295.33 468.20,293.08 469.10,294.05 470.00,294.77 470.90,294.19 471.80,294.95 472.70,293.89 473.60,295.74 474.50,295.06 475.40,294.33 476.30,295.61 477.20,295.04 478.10,294.95 479.00,295.60 479.90,295.02 480.80,295.11 481.70,296.29 482.60,295.91 483.50,294.48 484.40,295.93 485.30,294.32 486.20,294.90 487.10,296.04 488.00,295.20 488.90,294.11 489.80,293.81 490.70,293.39 491.60,292.33 492.50,294.32 493.40,291.28 494.30,291.32 495.20,291.08 496.10,289.06 497.00,289.59 497.90,286.95 498.80,288.09 499.70,286.58 500.60,284.63 501.50,284.16 502.40,282.33 503.30,282.33 504.20,281.35 505.10,281.21 506.00,282.61 506.90,284.63 507.80,286.35 508.70,287.77 509.60,290.85 510.50,291.69 511.40,294.22 512.30,295.81 513.20,295.91 514.10,297.08 515.00,297.56" fill="none" stroke="#1a1a1a" stroke-width="0.95" stroke-linejoin="round"/>
</svg>
</body></html>
